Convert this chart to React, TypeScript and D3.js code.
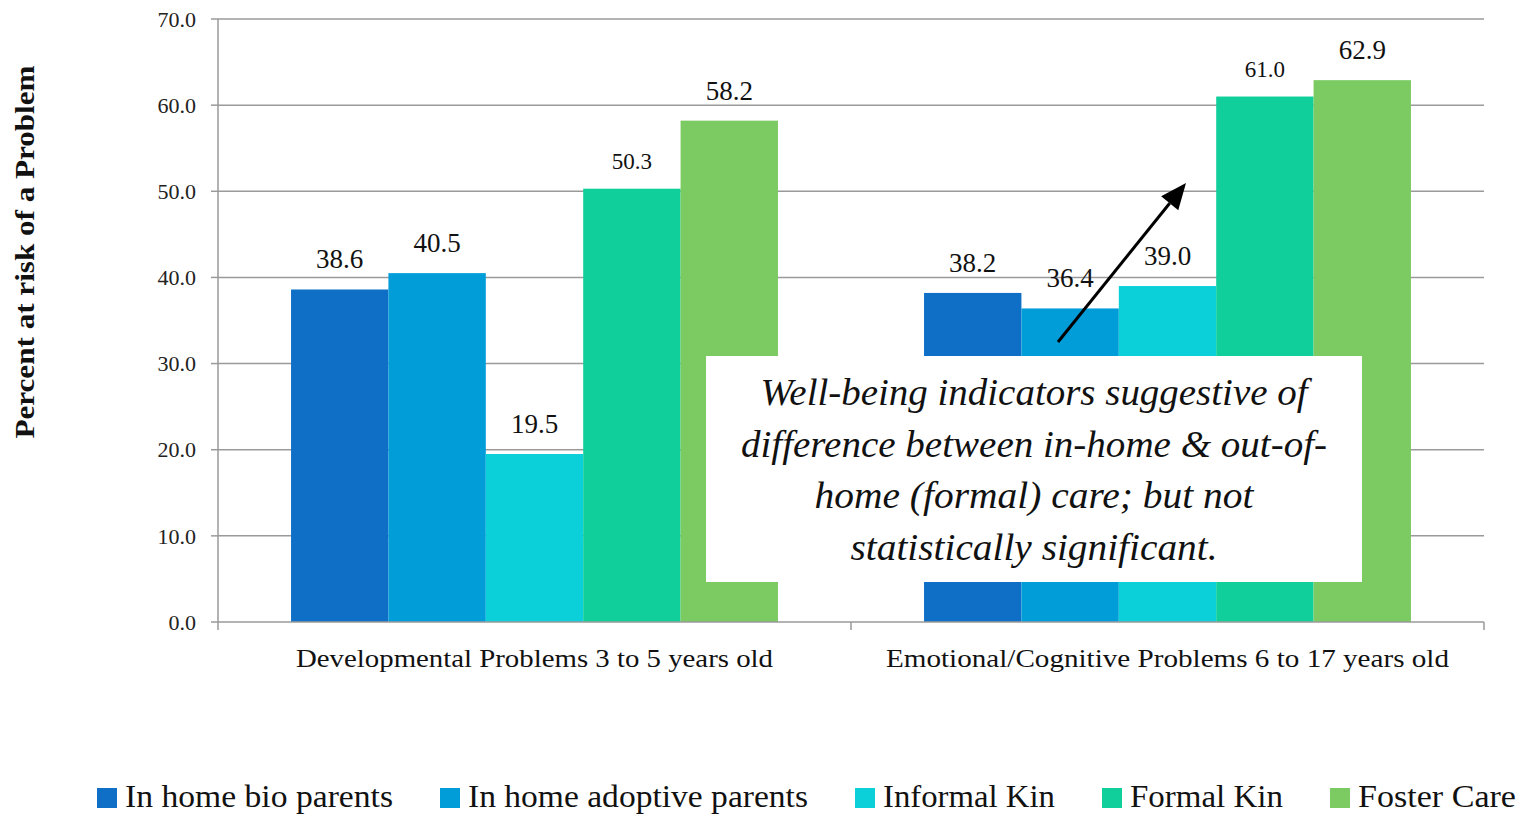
import React from "react";
import * as d3 from "d3";

const categories = ["Developmental Problems 3 to 5 years old", "Emotional/Cognitive Problems 6 to 17 years old"];
const seriesNames = ["In home bio parents", "In home adoptive parents", "Informal Kin", "Formal Kin", "Foster Care"];
const seriesColors = ["#0F6FC6", "#009DD9", "#0BD0D9", "#10CF9B", "#7CCA62"];
const developmentalValues = [38.6, 40.5, 19.5, 50.3, 58.2];
const emotionalValues = [38.2, 36.4, 39.0, 61.0, 62.9];
const smallLabelSeries = [3];
const yTicks = [0, 10, 20, 30, 40, 50, 60, 70];
const annotationLines = [
  "Well-being indicators suggestive of",
  "difference between in-home & out-of-",
  "home (formal) care; but not",
  "statistically significant.",
];

const W = 1528;
const H = 815;
const FONT = "'Liberation Serif', 'Times New Roman', serif";

export default function App() {
  const left = 218, right = 1484, top = 19, bottom = 622;
  const y = d3.scaleLinear().domain([0, 70]).range([bottom, top]);
  const x0 = d3.scaleBand<string>().domain(categories).range([left, right]).paddingInner(0).paddingOuter(0);
  const bw = x0.bandwidth();
  // Excel gap width 150%: 5 bars + 1.5 bar gap
  const barW = bw / (seriesNames.length + 1.5);
  const x1 = d3.scaleBand<string>().domain(seriesNames).range([barW * 0.75, barW * 0.75 + barW * 5]).padding(0);
  const values = [developmentalValues, emotionalValues];
  const gridColor = "#9a9a9a";

  const legendX = [97, 440, 855, 1102, 1330];
  const legendW = [268, 340, 172, 153, 158];
  const catW = [477, 563];
  const annW = [547, 586, 439, 367];

  const arrowFrom = { x: 1058, y: 342 };
  const arrowTo = { x: 1186, y: 183 };
  const ang = Math.atan2(arrowTo.y - arrowFrom.y, arrowTo.x - arrowFrom.x);
  const hl = 26, hw = 11;
  const bx = arrowTo.x - hl * Math.cos(ang), by = arrowTo.y - hl * Math.sin(ang);
  const px = -Math.sin(ang), py = Math.cos(ang);
  const headPts = `${arrowTo.x},${arrowTo.y} ${bx + hw * px},${by + hw * py} ${bx - hw * px},${by - hw * py}`;

  return (
    <svg width={W} height={H} style={{ position: "absolute", left: 0, top: 0, background: "#fff" }} fontFamily={FONT}>
      {/* gridlines */}
      {yTicks.map((t) => (
        <g key={t}>
          {t > 0 && <line x1={left} x2={right} y1={y(t)} y2={y(t)} stroke={gridColor} strokeWidth={1.5} />}
          <line x1={left - 7} x2={left} y1={y(t)} y2={y(t)} stroke={gridColor} strokeWidth={1.5} />
          <text x={196} y={y(t)} dy="0.35em" textAnchor="end" fontSize={22} fill="#222">
            {t.toFixed(1)}
          </text>
        </g>
      ))}
      <line x1={left} x2={left} y1={top} y2={bottom} stroke={gridColor} strokeWidth={1.5} />

      {/* bars */}
      {categories.map((c, ci) => (
        <g key={c} transform={`translate(${x0(c)},0)`}>
          {seriesNames.map((s, si) => {
            const v = values[ci][si];
            const bx0 = x1(s)!;
            return (
              <rect key={s} x={bx0} y={y(v)} width={x1.bandwidth()} height={y(0) - y(v)} fill={seriesColors[si]} />
            );
          })}
          {seriesNames.map((s, si) => {
            const v = values[ci][si];
            const small = smallLabelSeries.includes(si);
            return (
              <text
                key={s + "l"}
                x={x1(s)! + x1.bandwidth() / 2}
                y={y(v) - (small ? 20 : 21)}
                textAnchor="middle"
                fontSize={small ? 23 : 27}
                fill="#111"
              >
                {v.toFixed(1)}
              </text>
            );
          })}
        </g>
      ))}

      {/* x axis */}
      <line x1={left} x2={right} y1={bottom} y2={bottom} stroke={gridColor} strokeWidth={1.5} />
      {[left, left + bw, right].map((tx) => (
        <line key={tx} x1={tx} x2={tx} y1={bottom} y2={bottom + 8} stroke={gridColor} strokeWidth={1.5} />
      ))}
      {categories.map((c, i) => (
        <text
          key={c}
          x={x0(c)! + bw / 2}
          y={667}
          textAnchor="middle"
          fontSize={26}
          fill="#111"
          textLength={catW[i]}
          lengthAdjust="spacingAndGlyphs"
        >
          {c}
        </text>
      ))}

      {/* y axis title */}
      <text
        transform={`translate(34, ${252}) rotate(-90)`}
        textAnchor="middle"
        fontSize={27}
        fontWeight="bold"
        fill="#111"
        textLength={373}
        lengthAdjust="spacingAndGlyphs"
      >
        Percent at risk of a Problem
      </text>

      {/* annotation */}
      <rect x={706} y={356} width={656} height={226} fill="#fff" />
      {annotationLines.map((l, i) => (
        <text
          key={i}
          x={1034}
          y={405 + i * 51.5}
          textAnchor="middle"
          fontSize={38}
          fontStyle="italic"
          fill="#111"
          textLength={annW[i]}
          lengthAdjust="spacingAndGlyphs"
        >
          {l}
        </text>
      ))}
      <line x1={arrowFrom.x} y1={arrowFrom.y} x2={bx} y2={by} stroke="#000" strokeWidth={3} />
      <polygon points={headPts} fill="#000" />

      {/* legend */}
      {seriesNames.map((s, i) => (
        <g key={s}>
          <rect x={legendX[i]} y={788} width={20} height={20} fill={seriesColors[i]} />
          <text
            x={legendX[i] + 28}
            y={807}
            fontSize={31}
            fill="#111"
            textLength={legendW[i]}
            lengthAdjust="spacingAndGlyphs"
          >
            {s}
          </text>
        </g>
      ))}
    </svg>
  );
}
